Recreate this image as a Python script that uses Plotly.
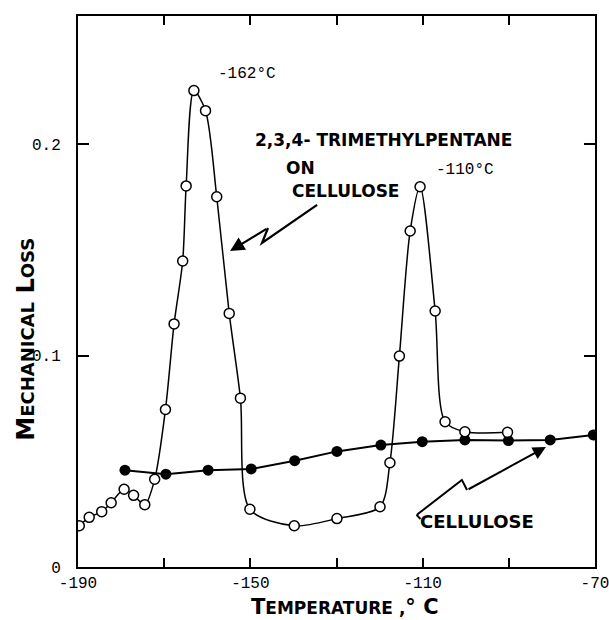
import plotly.graph_objects as go

# ---- data ----
treated_temp = [-189.7, -187.4, -184.5, -182.3, -179.3, -177.1, -174.5, -172.2, -169.7,
                -167.7, -165.7, -164.9, -163.1, -160.4, -157.8, -154.9, -152.3, -150.1,
                -139.8, -129.9, -119.9, -117.6, -115.4, -112.9, -110.6, -107.1, -104.8,
                -100.2, -90.3]
treated_loss = [0.0195, 0.0235, 0.0262, 0.0304, 0.0368, 0.0339, 0.0295, 0.0415, 0.0745,
                0.1150, 0.1448, 0.1803, 0.2254, 0.2159, 0.1752, 0.1200, 0.0799, 0.0273,
                0.0195, 0.0229, 0.0285, 0.0493, 0.0998, 0.1590, 0.1799, 0.1211, 0.0687,
                0.0640, 0.0637]

cell_temp = [-179.1, -169.6, -159.8, -149.8, -139.7, -129.9, -119.7, -110.1, -100.2,
             -90.1, -80.4, -70.4]
cell_loss = [0.0458, 0.0439, 0.0458, 0.0464, 0.0503, 0.0547, 0.0577, 0.0593, 0.0601,
             0.0598, 0.0601, 0.0625]

x_tickvals = [-190, -170, -150, -130, -110, -90, -70]
x_ticktext = ["-190", "", "-150", "", "-110", "", "-70"]
y_tickvals = [0, 0.1, 0.2]
y_ticktext = ["0", "0.1", "0.2"]

# annotation pointer paths (data coordinates)
upper_arrow_T = [-134.5, -147.3, -145.9, -154.7]
upper_arrow_v = [0.1713, 0.1533, 0.1604, 0.1495]
lower_arrow_T = [-110.5, -111.3, -111.1, -100.9, -99.7, -81.4]
lower_arrow_v = [0.0227, 0.0244, 0.0251, 0.0412, 0.0364, 0.0568]

fig = go.Figure()

fig.add_trace(go.Scatter(
    x=cell_temp, y=cell_loss, mode="lines+markers", name="Cellulose",
    line=dict(color="black", width=2),
    marker=dict(symbol="circle", size=11, color="black"),
    showlegend=False))

fig.add_trace(go.Scatter(
    x=treated_temp, y=treated_loss, mode="lines+markers",
    name="2,3,4-Trimethylpentane on cellulose",
    line=dict(color="black", width=1.5, shape="spline", smoothing=0.8),
    marker=dict(symbol="circle", size=10, color="white",
                line=dict(color="black", width=1.5)),
    showlegend=False))

def path_of(xs, ys):
    return "M " + " L ".join(f"{x},{y}" for x, y in zip(xs, ys))

fig.add_shape(type="path", xref="x", yref="y",
              path=path_of(upper_arrow_T[:-1], upper_arrow_v[:-1]),
              line=dict(color="black", width=2.2))
fig.add_annotation(x=upper_arrow_T[-1], y=upper_arrow_v[-1],
                   ax=upper_arrow_T[-2], ay=upper_arrow_v[-2],
                   xref="x", yref="y", axref="x", ayref="y",
                   text="", showarrow=True, arrowhead=2, arrowsize=1.3,
                   arrowwidth=2.2, arrowcolor="black")

fig.add_shape(type="path", xref="x", yref="y",
              path=path_of(lower_arrow_T[:-1], lower_arrow_v[:-1]),
              line=dict(color="black", width=2))
fig.add_annotation(x=lower_arrow_T[-1], y=lower_arrow_v[-1],
                   ax=lower_arrow_T[-2], ay=lower_arrow_v[-2],
                   xref="x", yref="y", axref="x", ayref="y",
                   text="", showarrow=True, arrowhead=2, arrowsize=1.3,
                   arrowwidth=2, arrowcolor="black")

label_font = dict(family="DejaVu Sans", size=17, color="black", weight="bold")
mono_font = dict(family="Liberation Mono", size=16, color="black")

def label(text, x, y, font, xanchor="left"):
    fig.add_annotation(x=x, y=y, xref="x", yref="y", text=text, showarrow=False,
                       xanchor=xanchor, yanchor="middle", font=font)

label("2,3,4- TRIMETHYLPENTANE", -149.4, 0.2020, label_font)
label("ON", -142.2, 0.1887, label_font)
label("CELLULOSE", -140.8, 0.1779, label_font)
label("CELLULOSE", -111.0, 0.0213, dict(label_font, size=18))
label("-162°C", -158.0, 0.2333, mono_font)
label("-110°C", -107.4, 0.1878, mono_font)

# axis titles in small-caps style
fig.add_annotation(xref="paper", yref="paper", x=0.516, y=-0.072,
                   xanchor="center", yanchor="middle", showarrow=False,
                   text="T<span style='font-size:17px'>EMPERATURE ,</span>° C",
                   font=dict(family="DejaVu Sans", size=21, color="black", weight="bold"))
fig.add_annotation(xref="paper", yref="paper", x=-0.101, y=0.414,
                   xanchor="center", yanchor="middle", showarrow=False, textangle=-90,
                   text="M<span style='font-size:18px'>ECHANICAL</span> L<span style='font-size:18px'>OSS</span>",
                   font=dict(family="DejaVu Sans", size=24, color="black", weight="bold"))

axis_common = dict(showline=True, linecolor="black", linewidth=2, mirror="ticks",
                   ticks="inside", tickcolor="black", tickwidth=2,
                   showgrid=False, zeroline=False, ticklabeloverflow="allow",
                   automargin=False,
                   tickfont=dict(family="Liberation Mono", size=16, color="black"))

fig.update_xaxes(range=[-190, -70], tickmode="array", tickvals=x_tickvals,
                 ticktext=x_ticktext, ticklen=9, ticklabelstandoff=0, **axis_common)
fig.update_yaxes(range=[0, 0.2607], tickmode="array", tickvals=y_tickvals,
                 ticktext=y_ticktext, ticklen=11, ticklabelstandoff=12, **axis_common)

fig.update_layout(width=609, height=620, margin=dict(l=78, r=14, t=16, b=53, autoexpand=False),
                  paper_bgcolor="white", plot_bgcolor="white", showlegend=False)

fig.write_html("out.html")
